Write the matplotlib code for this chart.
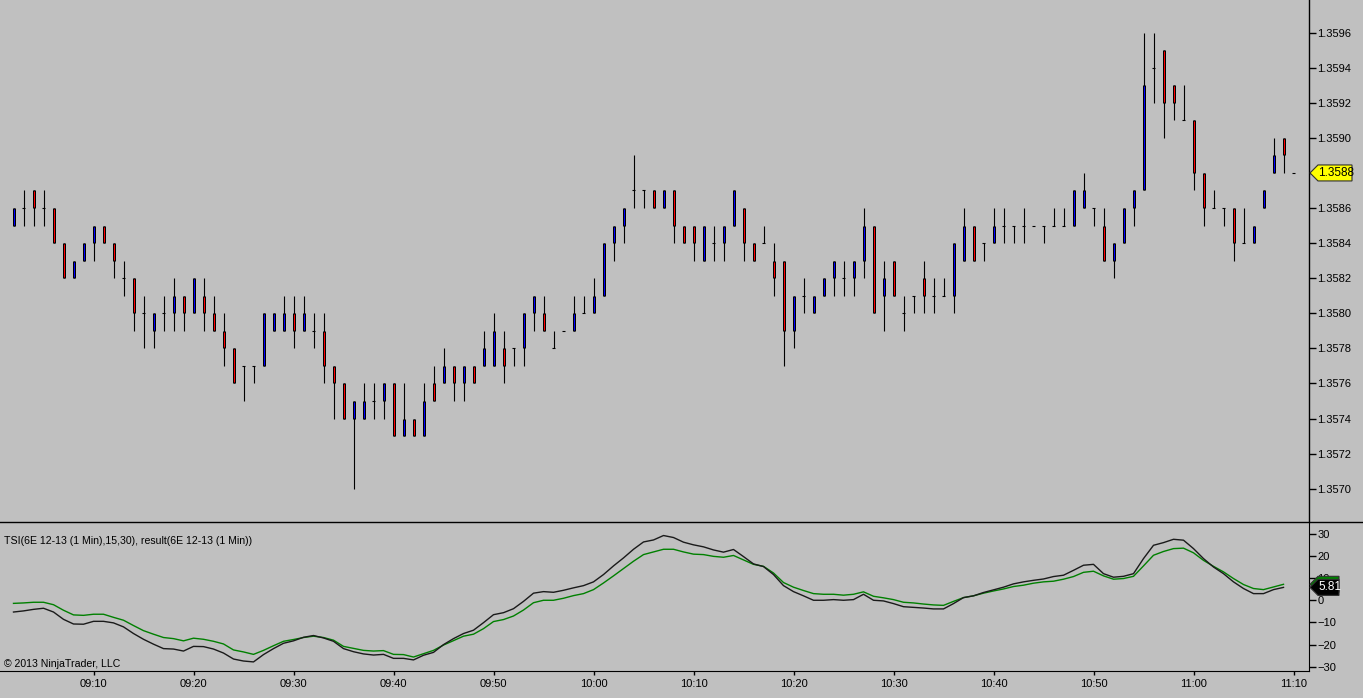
import matplotlib
matplotlib.use('Agg')
import matplotlib.pyplot as plt
from matplotlib.patches import Polygon
from matplotlib.lines import Line2D
from matplotlib.transforms import IdentityTransform
import numpy as np
import pandas as pd

# 1 minute bars 6E 12-13, 09:02 .. 11:10
bar_times = pd.date_range('2013-10-01 09:02', periods=129, freq='min')

opens = [1.3585, 1.3586, 1.3587, 1.3586, 1.3586, 1.3584, 1.3582, 1.3583, 1.3584, 1.3585,
         1.3584, 1.3582, 1.3582, 1.3580, 1.3579, 1.3580, 1.3580, 1.3581, 1.3580, 1.3581,
         1.3580, 1.3579, 1.3578, 1.3577, 1.3577, 1.3577, 1.3579, 1.3579, 1.3580, 1.3579,
         1.3579, 1.3579, 1.3577, 1.3576, 1.3574, 1.3574, 1.3575, 1.3575, 1.3576, 1.3573,
         1.3574, 1.3573, 1.3576, 1.3576, 1.3577, 1.3576, 1.3577, 1.3577, 1.3577, 1.3578,
         1.3578, 1.3578, 1.3580, 1.3580, 1.3578, 1.3579, 1.3579, 1.3580, 1.3580, 1.3581,
         1.3584, 1.3585, 1.3587, 1.3587, 1.3587, 1.3586, 1.3587, 1.3585, 1.3585, 1.3583,
         1.3584, 1.3584, 1.3585, 1.3586, 1.3584, 1.3584, 1.3583, 1.3583, 1.3579, 1.3581,
         1.3580, 1.3581, 1.3582, 1.3582, 1.3582, 1.3583, 1.3585, 1.3581, 1.3583, 1.3580,
         1.3581, 1.3582, 1.3581, 1.3581, 1.3581, 1.3583, 1.3585, 1.3584, 1.3584, 1.3585,
         1.3585, 1.3585, 1.3585, 1.3585, 1.3585, 1.3585, 1.3585, 1.3586, 1.3586, 1.3585,
         1.3583, 1.3584, 1.3586, 1.3587, 1.3594, 1.3595, 1.3593, 1.3591, 1.3591, 1.3588,
         1.3586, 1.3586, 1.3586, 1.3584, 1.3584, 1.3586, 1.3588, 1.3590, 1.3588]
highs = [1.3586, 1.3587, 1.3587, 1.3587, 1.3586, 1.3584, 1.3583, 1.3584, 1.3585, 1.3585,
         1.3584, 1.3583, 1.3582, 1.3581, 1.3580, 1.3581, 1.3582, 1.3581, 1.3582, 1.3582,
         1.3581, 1.3580, 1.3578, 1.3577, 1.3577, 1.3580, 1.3580, 1.3581, 1.3581, 1.3581,
         1.3580, 1.3580, 1.3577, 1.3576, 1.3575, 1.3576, 1.3576, 1.3576, 1.3576, 1.3576,
         1.3574, 1.3576, 1.3577, 1.3578, 1.3577, 1.3577, 1.3577, 1.3579, 1.3580, 1.3579,
         1.3578, 1.3580, 1.3581, 1.3581, 1.3579, 1.3579, 1.3581, 1.3581, 1.3582, 1.3584,
         1.3585, 1.3586, 1.3589, 1.3587, 1.3587, 1.3587, 1.3587, 1.3585, 1.3585, 1.3585,
         1.3585, 1.3585, 1.3587, 1.3586, 1.3584, 1.3585, 1.3584, 1.3583, 1.3581, 1.3582,
         1.3581, 1.3582, 1.3583, 1.3583, 1.3583, 1.3586, 1.3585, 1.3583, 1.3583, 1.3581,
         1.3581, 1.3583, 1.3582, 1.3582, 1.3584, 1.3586, 1.3585, 1.3584, 1.3586, 1.3586,
         1.3585, 1.3586, 1.3585, 1.3585, 1.3586, 1.3586, 1.3587, 1.3588, 1.3586, 1.3586,
         1.3584, 1.3586, 1.3587, 1.3596, 1.3596, 1.3595, 1.3593, 1.3593, 1.3591, 1.3588,
         1.3587, 1.3586, 1.3586, 1.3586, 1.3585, 1.3587, 1.3590, 1.3590, 1.3588]
lows = [1.3585, 1.3585, 1.3585, 1.3585, 1.3584, 1.3582, 1.3582, 1.3583, 1.3583, 1.3584,
        1.3582, 1.3581, 1.3579, 1.3578, 1.3578, 1.3579, 1.3579, 1.3579, 1.3580, 1.3579,
        1.3579, 1.3577, 1.3576, 1.3575, 1.3576, 1.3577, 1.3579, 1.3579, 1.3578, 1.3579,
        1.3578, 1.3576, 1.3574, 1.3574, 1.3570, 1.3574, 1.3574, 1.3574, 1.3573, 1.3573,
        1.3573, 1.3573, 1.3575, 1.3576, 1.3575, 1.3575, 1.3576, 1.3577, 1.3577, 1.3576,
        1.3577, 1.3577, 1.3579, 1.3579, 1.3578, 1.3579, 1.3579, 1.3580, 1.3580, 1.3581,
        1.3583, 1.3584, 1.3586, 1.3586, 1.3586, 1.3586, 1.3584, 1.3584, 1.3583, 1.3583,
        1.3583, 1.3583, 1.3585, 1.3583, 1.3583, 1.3584, 1.3581, 1.3577, 1.3578, 1.3580,
        1.3580, 1.3581, 1.3581, 1.3581, 1.3581, 1.3582, 1.3580, 1.3579, 1.3581, 1.3579,
        1.3580, 1.3580, 1.3580, 1.3581, 1.3580, 1.3583, 1.3583, 1.3583, 1.3584, 1.3584,
        1.3584, 1.3584, 1.3585, 1.3584, 1.3585, 1.3585, 1.3585, 1.3586, 1.3585, 1.3583,
        1.3582, 1.3584, 1.3585, 1.3587, 1.3592, 1.3590, 1.3591, 1.3591, 1.3587, 1.3585,
        1.3586, 1.3585, 1.3583, 1.3584, 1.3584, 1.3586, 1.3588, 1.3588, 1.3588]
closes = [1.3586, 1.3586, 1.3586, 1.3586, 1.3584, 1.3582, 1.3583, 1.3584, 1.3585, 1.3584,
          1.3583, 1.3582, 1.3580, 1.3580, 1.3580, 1.3580, 1.3581, 1.3580, 1.3582, 1.3580,
          1.3579, 1.3578, 1.3576, 1.3577, 1.3577, 1.3580, 1.3580, 1.3580, 1.3579, 1.3580,
          1.3579, 1.3577, 1.3576, 1.3574, 1.3575, 1.3575, 1.3575, 1.3576, 1.3573, 1.3574,
          1.3573, 1.3575, 1.3575, 1.3577, 1.3576, 1.3577, 1.3576, 1.3578, 1.3579, 1.3577,
          1.3578, 1.3580, 1.3581, 1.3579, 1.3578, 1.3579, 1.3580, 1.3580, 1.3581, 1.3584,
          1.3585, 1.3586, 1.3587, 1.3587, 1.3586, 1.3587, 1.3585, 1.3584, 1.3584, 1.3585,
          1.3584, 1.3585, 1.3587, 1.3584, 1.3583, 1.3584, 1.3582, 1.3579, 1.3581, 1.3581,
          1.3581, 1.3582, 1.3583, 1.3582, 1.3583, 1.3585, 1.3580, 1.3582, 1.3581, 1.3580,
          1.3581, 1.3581, 1.3581, 1.3581, 1.3584, 1.3585, 1.3583, 1.3584, 1.3585, 1.3585,
          1.3585, 1.3585, 1.3585, 1.3585, 1.3585, 1.3585, 1.3587, 1.3587, 1.3586, 1.3583,
          1.3584, 1.3586, 1.3587, 1.3593, 1.3594, 1.3592, 1.3592, 1.3591, 1.3588, 1.3586,
          1.3586, 1.3586, 1.3584, 1.3584, 1.3585, 1.3587, 1.3589, 1.3589, 1.3588]

# TSI (15,30) and its signal line
tsi = [-5.3, -4.8, -4.1, -3.6, -5.3, -8.6, -10.7, -10.8, -9.5, -9.5,
       -10.2, -12.0, -15.0, -17.6, -19.8, -21.8, -22.0, -22.9, -20.8, -20.9,
       -22.0, -23.8, -26.5, -27.4, -27.8, -24.5, -21.8, -19.4, -18.3, -16.7,
       -15.9, -17.0, -18.5, -21.8, -23.2, -24.2, -24.7, -24.4, -26.2, -26.2,
       -26.9, -24.8, -23.5, -20.0, -17.3, -15.0, -13.5, -10.1, -6.5, -5.6,
       -3.8, -0.5, 3.2, 3.9, 3.6, 4.5, 5.6, 6.6, 8.3, 11.6,
       15.5, 19.1, 23.0, 26.3, 27.2, 29.2, 28.3, 26.2, 25.0, 24.1,
       22.7, 21.7, 22.9, 19.7, 16.4, 15.2, 11.6, 6.6, 3.9, 2.0,
       0.0, 0.0, 0.3, 0.0, 0.3, 2.7, 0.0, -0.3, -1.5, -2.9,
       -3.2, -3.5, -3.9, -3.9, -1.5, 1.2, 2.0, 3.5, 4.7, 5.9,
       7.4, 8.3, 9.0, 9.6, 10.7, 11.3, 13.5, 15.8, 16.2, 12.0,
       10.4, 10.8, 12.0, 18.8, 24.8, 26.0, 27.5, 27.1, 23.3, 18.8,
       15.0, 12.0, 8.3, 5.3, 3.0, 3.0, 4.8, 5.81]
signal = [-1.4, -1.2, -0.9, -0.9, -2.0, -4.5, -6.6, -6.8, -6.3, -6.3,
          -7.7, -9.0, -11.4, -13.7, -15.3, -16.8, -17.3, -18.3, -17.1, -17.6,
          -18.5, -19.7, -22.4, -23.3, -24.4, -22.6, -20.5, -18.5, -17.7, -16.8,
          -16.2, -16.8, -18.0, -20.8, -21.7, -22.6, -22.9, -22.7, -24.4, -24.5,
          -25.6, -24.1, -22.6, -20.2, -18.2, -16.2, -15.3, -12.8, -9.6, -8.7,
          -7.1, -4.4, -1.1, 0.0, 0.0, 0.9, 2.1, 3.0, 4.8, 7.8,
          11.0, 14.3, 17.6, 20.6, 21.8, 23.0, 23.0, 21.8, 20.8, 20.6,
          19.8, 19.4, 20.2, 18.2, 16.2, 15.3, 12.3, 8.0, 5.9, 4.4,
          3.0, 2.7, 2.7, 2.3, 2.7, 3.8, 1.8, 1.1, 0.3, -0.9,
          -1.2, -1.7, -2.1, -2.3, -0.5, 1.2, 2.0, 3.2, 4.2, 5.1,
          6.2, 6.8, 7.7, 8.3, 8.6, 9.5, 10.7, 12.6, 13.1, 11.0,
          9.5, 9.8, 10.8, 15.5, 20.3, 22.0, 23.3, 23.5, 21.4, 18.0,
          15.3, 12.8, 9.8, 7.1, 5.3, 4.8, 6.0, 7.2]

price_ticks = [1.3570, 1.3572, 1.3574, 1.3576, 1.3578, 1.3580, 1.3582,
               1.3584, 1.3586, 1.3588, 1.3590, 1.3592, 1.3594, 1.3596]
tsi_ticks = [-30, -20, -10, 0, 10, 20, 30]

legend_text = 'TSI(6E 12-13 (1 Min),15,30), result(6E 12-13 (1 Min))'
copyright_text = '\u00a9 2013 NinjaTrader, LLC'

BG = '#c0c0c0'
W, H = 1363, 698
plt.rcParams['font.family'] = ['Liberation Sans', 'DejaVu Sans']
plt.rcParams['font.size'] = 8

fig = plt.figure(figsize=(W / 100, H / 100), dpi=100, facecolor=BG)
ax = fig.add_axes([0, (H - 522) / H, 1309 / W, 522 / H], facecolor=BG)
ax2 = fig.add_axes([0, (H - 671) / H, 1309 / W, (671 - 522) / H], facecolor=BG, sharex=ax)

ylo, yhi = 1.356810, 1.359786
px = (yhi - ylo) / 522.0   # one pixel in price units

x = np.arange(len(opens))
o = np.array(opens)
c = np.array(closes)
doji = c == o
body_col = np.where(c > o, '#0000ff', '#ff0000')
bot = np.minimum(o, c)
top = np.maximum(o, c)

# wicks, body outline, body fill, doji dashes
ax.vlines(x, lows, highs, color='black', linewidth=0.8, zorder=2)
ax.vlines(x[~doji], bot[~doji], top[~doji], color='black', linewidth=2.16, zorder=3)
ax.vlines(x[~doji], bot[~doji] + px, top[~doji] - px, colors=body_col[~doji],
          linewidth=0.72, zorder=4)
ax.hlines(o[doji], x[doji] - 0.15, x[doji] + 0.15, color='black', linewidth=0.8, zorder=3)

ax.set_xlim(-1.35, 129.55)
ax.set_ylim(ylo, yhi)
ax.set_yticks(price_ticks)
ax.set_yticklabels(['%.4f' % p for p in price_ticks])
ax.yaxis.tick_right()
ax.tick_params(axis='y', direction='out', length=5, width=1, pad=1, labelsize=8, colors='black')
ax.tick_params(axis='x', bottom=False, labelbottom=False)
for s in ['top', 'left', 'bottom']:
    ax.spines[s].set_visible(False)
ax.spines['right'].set_linewidth(1)

# lower panel
xi = np.arange(len(tsi))
ax2.plot(xi, signal, color='#008000', linewidth=1.0, zorder=2)
ax2.plot(xi, tsi, color='#1a1a1a', linewidth=1.0, zorder=3)
ax2.set_ylim(-31.9, 35.3)
ax2.set_yticks(tsi_ticks)
ax2.yaxis.tick_right()
ax2.tick_params(axis='y', direction='out', length=5, width=1, pad=1, labelsize=8)
tick_idx = [i for i, t in enumerate(bar_times) if t.minute % 10 == 0]
ax2.set_xticks(tick_idx)
ax2.set_xticklabels([bar_times[i].strftime('%H:%M') for i in tick_idx])
ax2.tick_params(axis='x', direction='out', length=3, width=1, pad=3, labelsize=8)
for s in ['top', 'left']:
    ax2.spines[s].set_visible(False)

ax2.text(0.003, 0.87, legend_text, transform=ax2.transAxes, fontsize=7.6, va='center', ha='left')
ax2.text(0.003, 0.045, copyright_text, transform=ax2.transAxes, fontsize=7.6, va='center', ha='left')

fig.add_artist(Line2D([0, 1], [(H - 522) / H] * 2, color='black', linewidth=1,
                      transform=fig.transFigure))


def marker(a, value, text, face, fg, width):
    x0 = a.transAxes.transform((1, 0))[0]
    yv = a.transData.transform((0, value))[1]
    pts = [(x0 + 1, yv), (x0 + 9, yv + 8), (x0 + 9 + width, yv + 8),
           (x0 + 9 + width, yv - 8), (x0 + 9, yv - 8)]
    fig.add_artist(Polygon(pts, closed=True, facecolor=face, edgecolor='#303030',
                           linewidth=0.8, transform=IdentityTransform(), zorder=10))
    fig.text((x0 + 10 + width / 2) / W, yv / H, text, color=fg, fontsize=8.5,
             ha='center', va='center', zorder=11)


marker(ax, closes[-1], '%.4f' % closes[-1], '#ffff00', 'black', 34)
marker(ax2, signal[-1], '', '#008000', 'white', 21)
marker(ax2, tsi[-1], '%.2f' % tsi[-1], 'black', 'white', 21)

fig.savefig('out.png', dpi=100, facecolor=BG)
